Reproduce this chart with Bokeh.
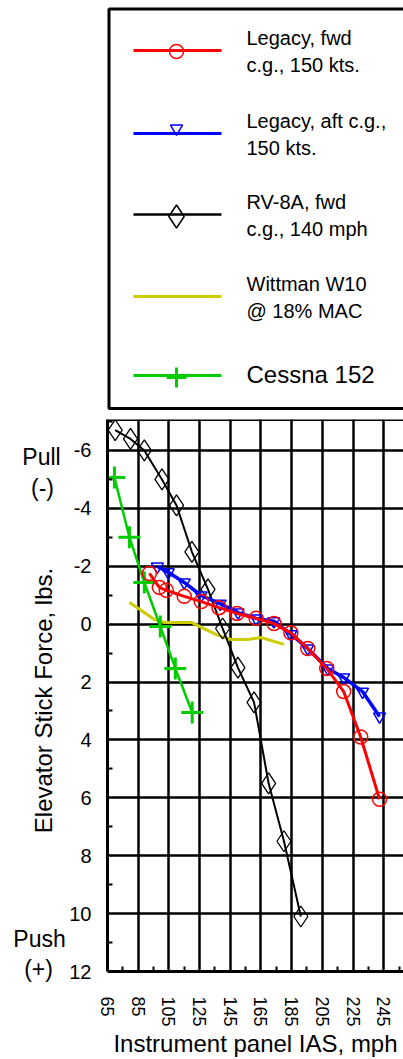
import math
from bokeh.plotting import figure
from bokeh.models import Range1d, FixedTicker, Span
from bokeh.layouts import column, row
from bokeh.embed import file_html
from bokeh.resources import INLINE
from bokeh.core.properties import value

# ---------------- data ----------------
series_names = ["Legacy, fwd\nc.g., 150 kts.", "Legacy, aft c.g.,\n150 kts.",
                "RV-8A, fwd\nc.g., 140 mph", "Wittman W10\n@ 18% MAC", "Cessna 152"]

legacy_fwd_ias = [92.3, 98.8, 103.3, 115.0, 126.1, 137.7, 149.4, 161.8, 173.5, 184.5, 195.5, 207.9, 218.9, 230.0, 242.3]
legacy_fwd_force = [-1.75, -1.27, -1.17, -0.96, -0.78, -0.57, -0.37, -0.2, -0.02, 0.3, 0.84, 1.53, 2.33, 3.9, 6.05]

legacy_aft_ias = [97.5, 104.6, 115.0, 126.0, 138.4, 150.1, 161.8, 173.4, 184.5, 195.5, 208.5, 218.9, 231.2, 242.3]
legacy_aft_force = [-1.99, -1.79, -1.44, -0.99, -0.71, -0.40, -0.20, -0.10, 0.35, 0.84, 1.53, 1.84, 2.33, 3.19]

rv8a_ias = [70, 80, 89, 100.5, 110, 120, 130.5, 140, 150, 160.5, 170, 180, 191]
rv8a_force = [-6.7, -6.4, -6.0, -5.0, -4.1, -2.5, -1.2, 0.15, 1.5, 2.7, 5.5, 7.5, 10.1]

wittman_ias = [79.3, 87.1, 95.5, 102.0, 119.6, 126.1, 137.1, 145.5, 156.6, 165.0, 180.0]
wittman_force = [-0.75, -0.47, -0.16, -0.06, -0.06, 0.11, 0.39, 0.53, 0.53, 0.46, 0.70]

cessna_ias = [69.5, 79.3, 89.0, 99.4, 109.2, 120.2]
cessna_force = [-5.07, -3.0, -1.44, 0.08, 1.53, 3.05]

x_ticks = [65, 85, 105, 125, 145, 165, 185, 205, 225, 245]
x_minor = [75, 95, 115, 135, 155, 175, 195, 215, 235, 255]
y_ticks = [-6, -4, -2, 0, 2, 4, 6, 8, 10, 12]
y_tick_labels = ["-6", "-4", "-2", "0", "2", "4", "6", "8", "10", "12"]
y_minor = [-7, -5, -3, -1, 1, 3, 5, 7, 9, 11]

x_title = "Instrument panel IAS, mph"
y_title = "Elevator Stick Force, lbs."
side_texts = ["Pull", "(-)", "Push", "(+)"]

RED, BLUE, BLACK, YELLOW, GREEN = "#ff0000", "#0000ff", "#000000", "#cccc00", "#00cc00"
SANS = "Liberation Sans, Arial, sans-serif"

W, H = 403, 1059
SIDE_W = 66
LEG_H = 412


def no_align(fig):
    try:
        fig.frame_align = False
    except Exception:
        pass


def bare(fig):
    fig.axis.visible = False
    fig.grid.visible = False


# ---------------- left side panel (Pull / Push, y title) ----------------
side = figure(width=SIDE_W, height=H, x_range=Range1d(0, SIDE_W), y_range=Range1d(H, 0),
              output_backend="svg", toolbar_location=None, min_border=0, outline_line_color=None)
bare(side)
no_align(side)
side.text(x=[41, 42, 39, 38], y=[456, 487, 938, 968], text=side_texts,
          text_font=value(SANS), text_font_size="23px", text_align="center",
          text_baseline="middle", text_color="#000000")
side.text(x=[43], y=[700], text=[y_title], angle=math.pi / 2,
          text_font=value(SANS), text_font_size="24px", text_align="center",
          text_baseline="middle", text_color="#000000")

# ---------------- legend panel ----------------
leg = figure(width=W - SIDE_W, height=LEG_H, x_range=Range1d(SIDE_W, W), y_range=Range1d(LEG_H, 0),
             output_backend="svg", toolbar_location=None, min_border=0, outline_line_color=None)
bare(leg)
no_align(leg)
leg.quad(left=108.5, right=W + 20, top=8.5, bottom=408,
         fill_color=None, line_color="black", line_width=3)

rows_y = [50, 133, 214, 296, 375]
colors = [RED, BLUE, BLACK, YELLOW, GREEN]
for ry, c in zip(rows_y, colors):
    leg.line([133, 221], [ry, ry], line_color=c, line_width=3 if c != BLACK else 2.5)
leg.scatter([176], [rows_y[0] + 1], marker="circle", size=14, fill_color=None, line_color=RED, line_width=1.5)
leg.scatter([176], [rows_y[1] - 5], marker="inverted_triangle", size=12, fill_color=None, line_color=BLUE, line_width=1.5)
leg.scatter([176], [rows_y[2] + 2], marker="diamond", size=23, fill_color=None, line_color=BLACK, line_width=1.5)
leg.scatter([176], [rows_y[4] + 2], marker="cross", size=20, line_color=GREEN, line_width=3)

text_x, text_y, text_s = [], [], []
for i, name in enumerate(series_names[:4]):
    for j, part in enumerate(name.split("\n")):
        text_x.append(246)
        text_y.append(rows_y[i] - 13 + 27 * j)
        text_s.append(part)
leg.text(x=text_x, y=text_y, text=text_s, text_font=value(SANS), text_font_size="20px",
         text_baseline="middle", text_align="left", text_color="#000000")
leg.text(x=[246], y=[rows_y[4] - 1], text=[series_names[4]], text_font=value(SANS),
         text_font_size="24px", text_baseline="middle", text_align="left", text_color="#000000")

# ---------------- main plot ----------------
x_lo, x_hi = 65, 257.9
y_lo, y_hi = 12, -7.07
p = figure(width=W - SIDE_W, height=H - LEG_H, x_range=Range1d(x_lo, x_hi), y_range=Range1d(y_lo, y_hi),
           output_backend="svg", toolbar_location=None,
           min_border_left=106 - SIDE_W, min_border_right=0, min_border_top=7, min_border_bottom=88,
           outline_line_color=None)
no_align(p)

p.xaxis.ticker = FixedTicker(ticks=x_ticks, minor_ticks=x_minor)
p.yaxis.ticker = FixedTicker(ticks=y_ticks, minor_ticks=y_minor)
p.yaxis.major_label_overrides = {t: s for t, s in zip(y_ticks, y_tick_labels)}
p.xgrid.ticker = FixedTicker(ticks=x_ticks)
p.ygrid.ticker = FixedTicker(ticks=y_ticks)
p.grid.grid_line_color = "black"
p.grid.grid_line_width = 2.5
p.grid.grid_line_alpha = 1.0

for ax in (p.xaxis[0], p.yaxis[0]):
    ax.axis_line_color = "black"
    ax.axis_line_width = 3
    ax.major_tick_in = 0
    ax.major_tick_out = 0
    ax.minor_tick_in = 5
    ax.minor_tick_out = 0
    ax.minor_tick_line_color = "black"
    ax.minor_tick_line_width = 2
    ax.axis_label_text_font_style = "normal"
    ax.axis_label_text_color = "black"
    ax.major_label_text_color = "black"

p.yaxis.major_label_text_font = SANS
p.yaxis.major_label_text_font_size = "20px"
p.yaxis.major_label_standoff = 16

p.xaxis.major_label_orientation = "vertical"
p.xaxis.major_label_text_font = SANS
p.xaxis.major_label_text_font_size = "18px"
p.xaxis.major_label_standoff = 25
p.xaxis.axis_label = x_title
p.xaxis.axis_label_text_font = SANS
p.xaxis.axis_label_text_font_size = "24px"
p.xaxis.axis_label_standoff = 0

# top frame line
p.add_layout(Span(location=y_hi, dimension="width", line_color="black", line_width=3))

# series
p.line(wittman_ias, wittman_force, line_color=YELLOW, line_width=3)
p.line(rv8a_ias, rv8a_force, line_color=BLACK, line_width=2)
p.scatter(rv8a_ias, rv8a_force, marker="diamond", size=21, fill_color=None, line_color=BLACK, line_width=1.3)
p.line(cessna_ias, cessna_force, line_color=GREEN, line_width=2.5)
p.scatter(cessna_ias, cessna_force, marker="cross", size=22, line_color=GREEN, line_width=3)
p.line(legacy_aft_ias, legacy_aft_force, line_color=BLUE, line_width=3.5)
p.scatter(legacy_aft_ias, legacy_aft_force, marker="inverted_triangle", size=12, fill_color=None, line_color=BLUE, line_width=1.5)
p.line(legacy_fwd_ias, legacy_fwd_force, line_color=RED, line_width=3)
p.scatter(legacy_fwd_ias, legacy_fwd_force, marker="circle", size=14, fill_color=None, line_color=RED, line_width=1.5)

layout = row(side, column(leg, p, spacing=0), spacing=0)
open("out.html", "w").write(file_html(layout, INLINE))
